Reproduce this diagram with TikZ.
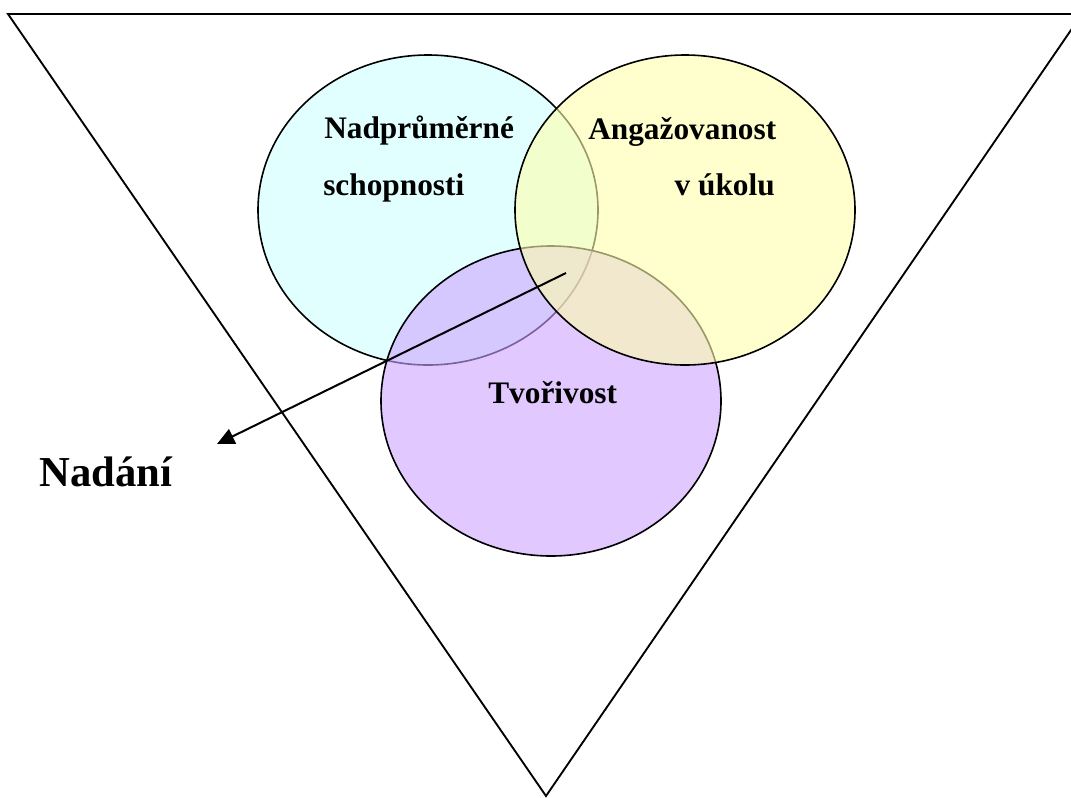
\documentclass[tikz,border=0pt]{standalone}
\usepackage{fontspec}
\setmainfont{Liberation Serif}
\usepackage{tikz}
\usetikzlibrary{arrows.meta}
\definecolor{nadcyan}{RGB}{205,255,255}
\definecolor{angyellow}{RGB}{255,255,172}
\definecolor{tvolilac}{RGB}{205,163,255}
\tikzset{
  kruh/.style={draw=black,line width=1.2pt,fill opacity=0.6},
  popis/.style={font=\fontsize{23.5}{28}\selectfont\bfseries,inner sep=0pt},
}

\begin{document}
\begin{tikzpicture}[x=0.75pt,y=-0.75pt]
    \useasboundingbox (0,0) rectangle (1071,797);
    \clip (0,0) rectangle (1071,797);
    % trojuhelnik
    \draw[line width=1.4pt] (8,14) -- (1082,14) -- (546,796) -- cycle;
    % kruhy
    \draw[kruh,fill=nadcyan] (428,210) ellipse [x radius=170,y radius=155];
    \draw[kruh,fill=tvolilac] (551,401) ellipse [x radius=170,y radius=155];
    \draw[kruh,fill=angyellow] (685,210) ellipse [x radius=170,y radius=155];
    \node[popis,anchor=base west] (nad) at (324,138) {Nadprůměrné};
    \node[popis,anchor=base west] (schop) at (323,195) {schopnosti};
    \node[popis,anchor=base west] (ang) at (588,139) {Angažovanost};
    \node[popis,anchor=base east] (ukol) at (775,195) {v úkolu};
    \node[popis,anchor=base west] (tvo) at (488,403) {Tvořivost};
    \node[popis,font=\fontsize{32}{38}\selectfont\bfseries,anchor=base west]
      (nadani) at (39,486) {Nadání};
    % sipka
    \coordinate (stred) at (566,273);
    \coordinate (hrot) at (217,444);
    \draw[line width=1.5pt,-{Triangle[length=13pt,width=12pt]}] (stred) -- (hrot);
\end{tikzpicture}
\end{document}
